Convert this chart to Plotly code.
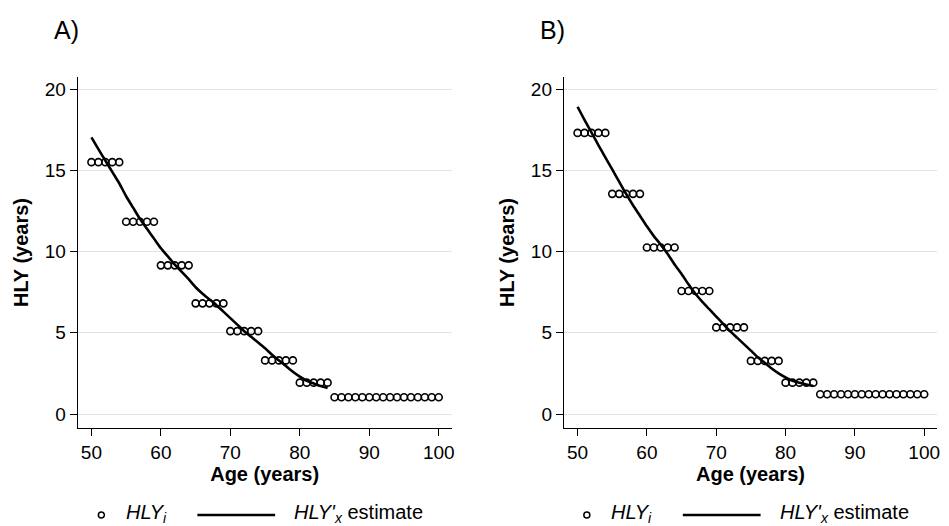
import plotly.graph_objects as go

W, H = 949, 526

# ---------------- data ----------------
ages = list(range(50, 101))

hly_a_points = [15.5, 15.5, 15.5, 15.5, 15.5,
                11.83, 11.83, 11.83, 11.83, 11.83,
                9.15, 9.15, 9.15, 9.15, 9.15,
                6.81, 6.81, 6.81, 6.81, 6.81,
                5.1, 5.1, 5.1, 5.1, 5.1,
                3.3, 3.3, 3.3, 3.3, 3.3,
                1.93, 1.93, 1.93, 1.93, 1.93,
                1.03, 1.03, 1.03, 1.03, 1.03, 1.03, 1.03, 1.03,
                1.03, 1.03, 1.03, 1.03, 1.03, 1.03, 1.03, 1.03]

hly_b_points = [17.3, 17.3, 17.3, 17.3, 17.3,
                13.55, 13.55, 13.55, 13.55, 13.55,
                10.25, 10.25, 10.25, 10.25, 10.25,
                7.57, 7.57, 7.57, 7.57, 7.57,
                5.33, 5.33, 5.33, 5.33, 5.33,
                3.27, 3.27, 3.27, 3.27, 3.27,
                1.93, 1.93, 1.93, 1.93, 1.93,
                1.22, 1.22, 1.22, 1.22, 1.22, 1.22, 1.22, 1.22,
                1.22, 1.22, 1.22, 1.22, 1.22, 1.22, 1.22, 1.22]

est_ages = list(range(50, 85))
hly_a_est = [17.03, 16.3, 15.6, 14.9, 14.2, 13.4, 12.7, 12.0, 11.4, 10.8,
             10.2, 9.7, 9.2, 8.75, 8.3, 7.8, 7.4, 7.05, 6.7, 6.3,
             5.9, 5.5, 5.1, 4.75, 4.4, 4.05, 3.65, 3.3, 2.95, 2.6,
             2.3, 2.05, 1.88, 1.72, 1.6]
hly_b_est = [18.91, 18.1, 17.33, 16.55, 15.8, 15.05, 14.3, 13.55, 12.85, 12.2,
             11.55, 10.95, 10.42, 9.85, 9.2, 8.62, 7.98, 7.4, 6.9, 6.45,
             6.0, 5.55, 5.1, 4.7, 4.3, 3.9, 3.5, 3.15, 2.8, 2.5,
             2.25, 2.05, 1.93, 1.82, 1.72]

y_ticks = [0, 5, 10, 15, 20]
x_ticks = [50, 60, 70, 80, 90, 100]
panel_labels = ["A)", "B)"]
legend_point_label = "<i>HLY</i><sub><i>i</i></sub>"
legend_line_label = "<i>HLY'</i><sub><i>x</i></sub> estimate"

# ---------------- layout helpers ----------------
def px_x(p):
    return p / W

def px_y(p):
    return (H - p) / H

FONT = "Liberation Sans, Arial, Helvetica, sans-serif"

fig = go.Figure()

panels = [
    dict(xa="x", ya="y", pts=hly_a_points, est=hly_a_est, left=78, right=453),
    dict(xa="x2", ya="y2", pts=hly_b_points, est=hly_b_est, left=565.7, right=940),
]

for p in panels:
    fig.add_trace(go.Scatter(
        x=ages, y=p["pts"], xaxis=p["xa"], yaxis=p["ya"], mode="markers",
        marker=dict(symbol="circle-open", size=7, color="black",
                    line=dict(width=1.6, color="black")),
        showlegend=False, hoverinfo="skip"))
    fig.add_trace(go.Scatter(
        x=est_ages, y=p["est"], xaxis=p["xa"], yaxis=p["ya"], mode="lines",
        line=dict(color="black", width=2.6, shape="spline", smoothing=0.6),
        showlegend=False, hoverinfo="skip"))

top_px, bot_px = 77, 428
axis_common = dict(showline=True, linecolor="black", linewidth=1.3,
                   ticks="outside", ticklen=7, tickwidth=1.3, tickcolor="black",
                   tickfont=dict(family=FONT, size=19, color="black"),
                   zeroline=False)

layout_axes = {}
for i, p in enumerate(panels):
    sfx = "" if i == 0 else "2"
    layout_axes["xaxis" + sfx] = dict(
        domain=[px_x(p["left"]), px_x(p["right"])],
        range=[48.03, 101.85], tickvals=x_ticks, showgrid=False,
        anchor="y" + sfx,
        title=dict(text="<b>Age (years)</b>", standoff=4,
                   font=dict(family=FONT, size=20, color="black")),
        **axis_common)
    layout_axes["yaxis" + sfx] = dict(
        domain=[px_y(bot_px), px_y(top_px)],
        range=[-0.86, 20.74], tickvals=y_ticks, showgrid=True,
        gridcolor="#e3e3e3", gridwidth=1, anchor="x" + sfx,
        title=dict(text="<b>HLY (years)</b>", standoff=10,
                   font=dict(family=FONT, size=20, color="black")),
        **axis_common)

annotations = []
shapes = []
leg_y = 515
for i, p in enumerate(panels):
    off = 0 if i == 0 else 487
    annotations.append(dict(
        text=panel_labels[i], xref="paper", yref="paper",
        x=px_x(p["left"] - 26), y=px_y(30), xanchor="left", yanchor="middle",
        showarrow=False, font=dict(family=FONT, size=25, color="black")))
    # legend: point symbol
    shapes.append(dict(type="circle", xref="paper", yref="paper",
                       xsizemode="pixel", ysizemode="pixel",
                       xanchor=px_x(101.7 + off), yanchor=px_y(leg_y),
                       x0=-3, x1=3, y0=-3, y1=3,
                       line=dict(color="black", width=1.5)))
    annotations.append(dict(
        text=legend_point_label, xref="paper", yref="paper",
        x=px_x(124 + off), y=px_y(leg_y - 2), xanchor="left", yanchor="middle",
        showarrow=False, font=dict(family=FONT, size=20, color="black")))
    # legend: line symbol
    shapes.append(dict(type="line", xref="paper", yref="paper",
                       x0=px_x(198 + off), x1=px_x(276 + off),
                       y0=px_y(leg_y), y1=px_y(leg_y),
                       line=dict(color="black", width=2.6)))
    annotations.append(dict(
        text=legend_line_label, xref="paper", yref="paper",
        x=px_x(293 + off), y=px_y(leg_y - 2), xanchor="left", yanchor="middle",
        showarrow=False, font=dict(family=FONT, size=20, color="black")))

fig.update_layout(
    width=W, height=H, margin=dict(l=0, r=0, t=0, b=0),
    paper_bgcolor="white", plot_bgcolor="white",
    showlegend=False, annotations=annotations, shapes=shapes,
    font=dict(family=FONT, color="black"),
    **layout_axes)

fig.write_html("out.html")
